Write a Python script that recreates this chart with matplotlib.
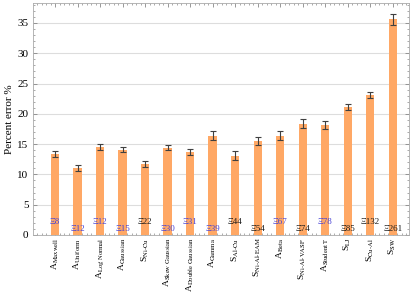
import numpy as np
import matplotlib
matplotlib.use("Agg")
import matplotlib.pyplot as plt
from matplotlib.ticker import MultipleLocator, AutoMinorLocator

plt.rcParams["font.family"] = ["Liberation Serif", "DejaVu Serif"]
plt.rcParams["mathtext.fontset"] = "stix"

# --- data ---
labels = [r"A$_{\mathrm{Maxwell}}$", r"A$_{\mathrm{Uniform}}$", r"A$_{\mathrm{Log\ Normal}}$",
          r"A$_{\mathrm{Gaussian}}$", r"S$_{\mathrm{Ni\text{-}Cu}}$", r"A$_{\mathrm{Skew\ Gaussian}}$",
          r"A$_{\mathrm{Double\ Gaussian}}$", r"A$_{\mathrm{Gamma}}$", r"S$_{\mathrm{Al\text{-}Cu}}$",
          r"S$_{\mathrm{Ni\text{-}Al\text{-}EAM}}$", r"A$_{\mathrm{Beta}}$", r"S$_{\mathrm{Ni\text{-}Al\text{-}VASP}}$",
          r"A$_{\mathrm{Student\ T}}$", r"S$_{\mathrm{LJ}}$", r"S$_{\mathrm{Cu\text{-}Al}}$", r"S$_{\mathrm{SW}}$"]
errors = [13.3, 11.0, 14.5, 14.1, 11.7, 14.4, 13.7, 16.4, 13.1, 15.5, 16.4, 18.4, 18.2, 21.1, 23.1, 35.6]
err_bars = [0.5, 0.5, 0.5, 0.45, 0.55, 0.45, 0.55, 0.75, 0.8, 0.65, 0.75, 0.8, 0.65, 0.45, 0.55, 0.9]
counts = [8, 12, 12, 15, 22, 30, 31, 39, 44, 54, 67, 74, 78, 85, 132, 261]
count_blue = [True, True, True, True, False, True, True, True, False, False, True, False, True, False, False, False]

x = np.arange(1, len(labels) + 1)

fig = plt.figure(figsize=(4.15, 2.93), dpi=100)
ax = fig.add_axes([0.08, 0.198, 0.905, 0.792])

ax.bar(x, errors, width=0.36, color="#ffa865", zorder=2)
ax.errorbar(x, errors, yerr=err_bars, fmt="none", ecolor="#404040", elinewidth=0.8,
            capsize=2, capthick=0.8, zorder=3)

for i, (xi, c) in enumerate(zip(x, counts)):
    y = 2.1 if i % 2 == 0 else 1.0
    ax.text(xi, y, "\u039e" + str(c), ha="center", va="center", fontsize=6.5,
            color="#4a44d4" if count_blue[i] else "#1a1a1a", zorder=4)

ax.set_xlim(0.03, 16.72)
ax.set_ylim(0, 38.3)
ax.yaxis.set_major_locator(MultipleLocator(5))
ax.yaxis.set_minor_locator(AutoMinorLocator(5))
ax.set_xticks(x)
ax.set_xticklabels(labels, rotation=90, fontsize=6.8)
ax.xaxis.set_minor_locator(AutoMinorLocator(5))
ax.tick_params(axis="both", which="both", direction="in", top=True, right=True,
               colors="#888888", labelcolor="black")
ax.tick_params(axis="both", which="major", length=3, width=0.6)
ax.tick_params(axis="both", which="minor", length=1.5, width=0.5)
ax.tick_params(axis="x", which="major", pad=2)
ax.tick_params(axis="y", labelsize=8)
ax.grid(axis="y", color="#dddddd", linewidth=0.8, zorder=0)
ax.set_axisbelow(True)
for s in ax.spines.values():
    s.set_color("#aaaaaa")
    s.set_linewidth(0.6)
ax.set_ylabel("Percent error %", fontsize=8, labelpad=2)

fig.savefig("out.png", dpi=100)
